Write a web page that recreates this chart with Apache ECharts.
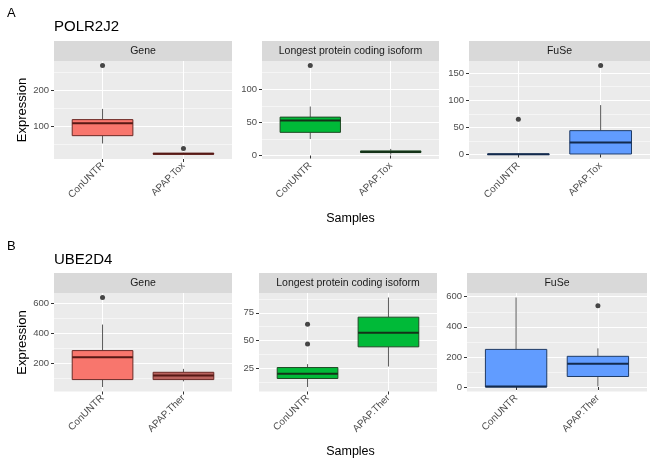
<!DOCTYPE html>
<html><head><meta charset="utf-8">
<script src="https://cdn.jsdelivr.net/npm/echarts@6/dist/echarts.min.js"></script>
<style>html,body{margin:0;padding:0;background:#fff}#c{width:651px;height:465px}</style>
</head><body><div id="c"></div>
<script>
// ---------------- DATA ----------------
const topCategories = ['ConUNTR', 'APAP.Tox'];
const bottomCategories = ['ConUNTR', 'APAP.Ther'];
const facetNames = ['Gene', 'Longest protein coding isoform', 'FuSe'];
const geneTitles = ['POLR2J2', 'UBE2D4'];
// box stats per category: [lower whisker, Q1, median, Q3, upper whisker]
const polr2j2Gene = [[51, 73, 108, 118, 148], [20, 21, 22, 23.5, 25]];
const polr2j2GeneOutliers = [[270], [37]];
const polr2j2Longest = [[25, 35, 53, 58, 74], [1.5, 4.5, 5.5, 7, 10]];
const polr2j2LongestOutliers = [[136], []];
const polr2j2FuSe = [[0, 0, 0.5, 1, 1.5], [0, 1, 22, 44, 91]];
const polr2j2FuSeOutliers = [[65], [164]];
const ube2d4Gene = [[38, 88, 238, 283, 458], [76, 88, 115, 137, 160]];
const ube2d4GeneOutliers = [[640], []];
const ube2d4Longest = [[7.9, 15.6, 19.9, 25.5, 28.6], [26.4, 44.2, 56.9, 71, 88.8]];
const ube2d4LongestOutliers = [[46.7, 64.7], []];
const ube2d4FuSe = [[0, 0, 3, 250, 595], [4, 70, 154, 204, 257]];
const ube2d4FuSeOutliers = [[], [540]];
// tick labels
const polr2j2GeneTicks = [100, 200];
const polr2j2LongestTicks = [0, 50, 100];
const polr2j2FuSeTicks = [0, 50, 100, 150];
const ube2d4GeneTicks = [200, 400, 600];
const ube2d4LongestTicks = [25, 50, 75];
const ube2d4FuSeTicks = [0, 200, 400, 600];
// minor grid positions
const polr2j2GeneMinor = [50, 150, 250];
const polr2j2LongestMinor = [25, 75, 125];
const polr2j2FuSeMinor = [25, 75, 125];
const ube2d4GeneMinor = [100, 300, 500];
const ube2d4LongestMinor = [12.5, 37.5, 62.5, 87.5];
const ube2d4FuSeMinor = [100, 300, 500];

// ---------------- STYLE / LAYOUT ----------------
const FONT = '"Liberation Sans", Arial, sans-serif';
const RED = {fill: ['#F8766D', '#B9635E'], border: '#6B2A26', median: '#561915'};
const GREEN = {fill: ['#00BA38', '#00BA38'], border: '#1E4A24', median: '#143218'};
const BLUE = {fill: ['#619CFF', '#619CFF'], border: '#1F3B66', median: '#132A4D'};

const panels = [
  {rect: [54, 61, 178, 98], cats: topCategories, boxes: polr2j2Gene, out: polr2j2GeneOutliers, ticks: polr2j2GeneTicks, minor: polr2j2GeneMinor, col: RED, facet: 0},
  {rect: [262, 61, 177, 98], cats: topCategories, boxes: polr2j2Longest, out: polr2j2LongestOutliers, ticks: polr2j2LongestTicks, minor: polr2j2LongestMinor, col: GREEN, facet: 1},
  {rect: [469, 61, 181, 98], cats: topCategories, boxes: polr2j2FuSe, out: polr2j2FuSeOutliers, ticks: polr2j2FuSeTicks, minor: polr2j2FuSeMinor, col: BLUE, facet: 2},
  {rect: [54, 293, 178, 98.5], cats: bottomCategories, boxes: ube2d4Gene, out: ube2d4GeneOutliers, ticks: ube2d4GeneTicks, minor: ube2d4GeneMinor, col: RED, facet: 0, darkSecond: true},
  {rect: [259, 293, 178, 98.5], cats: bottomCategories, boxes: ube2d4Longest, out: ube2d4LongestOutliers, ticks: ube2d4LongestTicks, minor: ube2d4LongestMinor, col: GREEN, facet: 1},
  {rect: [467, 293, 180, 98.5], cats: bottomCategories, boxes: ube2d4FuSe, out: ube2d4FuSeOutliers, ticks: ube2d4FuSeTicks, minor: ube2d4FuSeMinor, col: BLUE, facet: 2}
];

const grids = [], xAxes = [], yAxes = [], series = [], graphics = [];

panels.forEach((p, i) => {
  const [l, t, w, h] = p.rect;
  // data range with ggplot's 5% expansion
  let lo = Infinity, hi = -Infinity;
  p.boxes.forEach(b => { lo = Math.min(lo, b[0]); hi = Math.max(hi, b[4]); });
  p.out.forEach(o => o.forEach(v => { lo = Math.min(lo, v); hi = Math.max(hi, v); }));
  const pad = (hi - lo) * 0.05;
  const ymin = lo - pad, ymax = hi + pad;

  grids.push({left: l, top: t, width: w, height: h, show: true, backgroundColor: '#EBEBEB', borderWidth: 0});
  xAxes.push({
    gridIndex: i, type: 'value', min: 0.4, max: 2.6,
    axisLine: {show: false},
    axisTick: {show: true, length: 3, customValues: [1, 2], lineStyle: {color: '#333333', width: 1}},
    axisLabel: {customValues: [1, 2], rotate: 45, margin: 5, color: '#4D4D4D', fontSize: 10, fontFamily: FONT,
      formatter: v => p.cats[Math.round(v) - 1]},
    splitLine: {show: true, lineStyle: {color: '#FFFFFF', width: 1}}
  });
  yAxes.push({
    gridIndex: i, type: 'value', min: ymin, max: ymax, position: 'left',
    axisLine: {show: false},
    axisTick: {show: true, length: 3, customValues: p.ticks, lineStyle: {color: '#333333', width: 1}},
    axisLabel: {customValues: p.ticks, margin: 5, color: '#4D4D4D', fontSize: 9.5, fontFamily: FONT},
    splitLine: {show: true, lineStyle: {color: '#FFFFFF', width: 1}}
  });
  const minorIdx = yAxes.length;
  yAxes.push({
    gridIndex: i, type: 'value', min: ymin, max: ymax, position: 'right',
    axisLine: {show: false},
    axisTick: {show: false, customValues: p.minor},
    axisLabel: {show: false, customValues: p.minor},
    splitLine: {show: true, lineStyle: {color: '#FFFFFF', width: 0.5}}
  });
  const majorIdx = minorIdx - 1;

  const col = p.col;
  series.push({
    type: 'custom', xAxisIndex: i, yAxisIndex: majorIdx, z: 3,
    data: p.boxes.map((b, k) => [k + 1, b[0], b[1], b[2], b[3], b[4], k]),
    renderItem: (params, api) => {
      const x = api.value(0);
      const k = api.value(6);
      const pLo = api.coord([x, api.value(1)]);
      const pQ1 = api.coord([x, api.value(2)]);
      const pMed = api.coord([x, api.value(3)]);
      const pQ3 = api.coord([x, api.value(4)]);
      const pHi = api.coord([x, api.value(5)]);
      const hw = api.size([0.75, 0])[0] / 2;
      const fill = (p.darkSecond && k === 1) ? col.fill[1] : col.fill[0];
      return {type: 'group', children: [
        {type: 'line', shape: {x1: pQ3[0], y1: pQ3[1], x2: pHi[0], y2: pHi[1]}, style: {stroke: '#5A5A5A', lineWidth: 1}},
        {type: 'line', shape: {x1: pQ1[0], y1: pQ1[1], x2: pLo[0], y2: pLo[1]}, style: {stroke: '#5A5A5A', lineWidth: 1}},
        {type: 'rect', shape: {x: pQ3[0] - hw, y: pQ3[1], width: 2 * hw, height: Math.max(pQ1[1] - pQ3[1], 0.5)},
          style: {fill: fill, stroke: col.border, lineWidth: 1}},
        {type: 'line', shape: {x1: pMed[0] - hw, y1: pMed[1], x2: pMed[0] + hw, y2: pMed[1]}, style: {stroke: col.median, lineWidth: 2}}
      ]};
    }
  });
  const pts = [];
  p.out.forEach((o, k) => o.forEach(v => pts.push([k + 1, v])));
  series.push({
    type: 'scatter', xAxisIndex: i, yAxisIndex: majorIdx, z: 4, symbolSize: 5,
    itemStyle: {color: '#1A1A1A'}, data: pts, silent: true
  });

  // facet strip
  graphics.push({type: 'rect', shape: {x: l, y: t - 20, width: w, height: 20}, style: {fill: '#D9D9D9'}, z: 1});
  graphics.push({type: 'text', x: l + w / 2, y: t - 10, z: 2,
    style: {text: facetNames[p.facet], fill: '#1A1A1A', font: '10.5px ' + FONT, textAlign: 'center', textVerticalAlign: 'middle', align: 'center', verticalAlign: 'middle'}});
});

// titles and axis names
function txt(s, x, y, size) {
  return {type: 'text', x: x, y: y, z: 2,
    style: {text: s, fill: '#000000', font: size + 'px ' + FONT, textAlign: 'left', textVerticalAlign: 'middle', align: 'left', verticalAlign: 'middle'}};
}
graphics.push(txt('A', 7, 13, 13));
graphics.push(txt('B', 7, 246.5, 13));
graphics.push(txt(geneTitles[0], 54, 27, 15));
graphics.push(txt(geneTitles[1], 54, 259.5, 15));
[110, 342.5].forEach(cy => {
  graphics.push({type: 'text', x: 22.5, y: cy, rotation: Math.PI / 2, z: 2,
    style: {text: 'Expression', fill: '#000000', font: '13px ' + FONT, textAlign: 'center', textVerticalAlign: 'middle', align: 'center', verticalAlign: 'middle'}});
});
[219, 452].forEach(cy => {
  graphics.push({type: 'text', x: 350.5, y: cy, z: 2,
    style: {text: 'Samples', fill: '#000000', font: '12.5px ' + FONT, textAlign: 'center', textVerticalAlign: 'middle', align: 'center', verticalAlign: 'middle'}});
});

const chart = echarts.init(document.getElementById('c'), null, {renderer: 'canvas'});
chart.setOption({
  animation: false,
  backgroundColor: '#FFFFFF',
  grid: grids, xAxis: xAxes, yAxis: yAxes, series: series,
  graphic: graphics
});
</script>
</body></html>
